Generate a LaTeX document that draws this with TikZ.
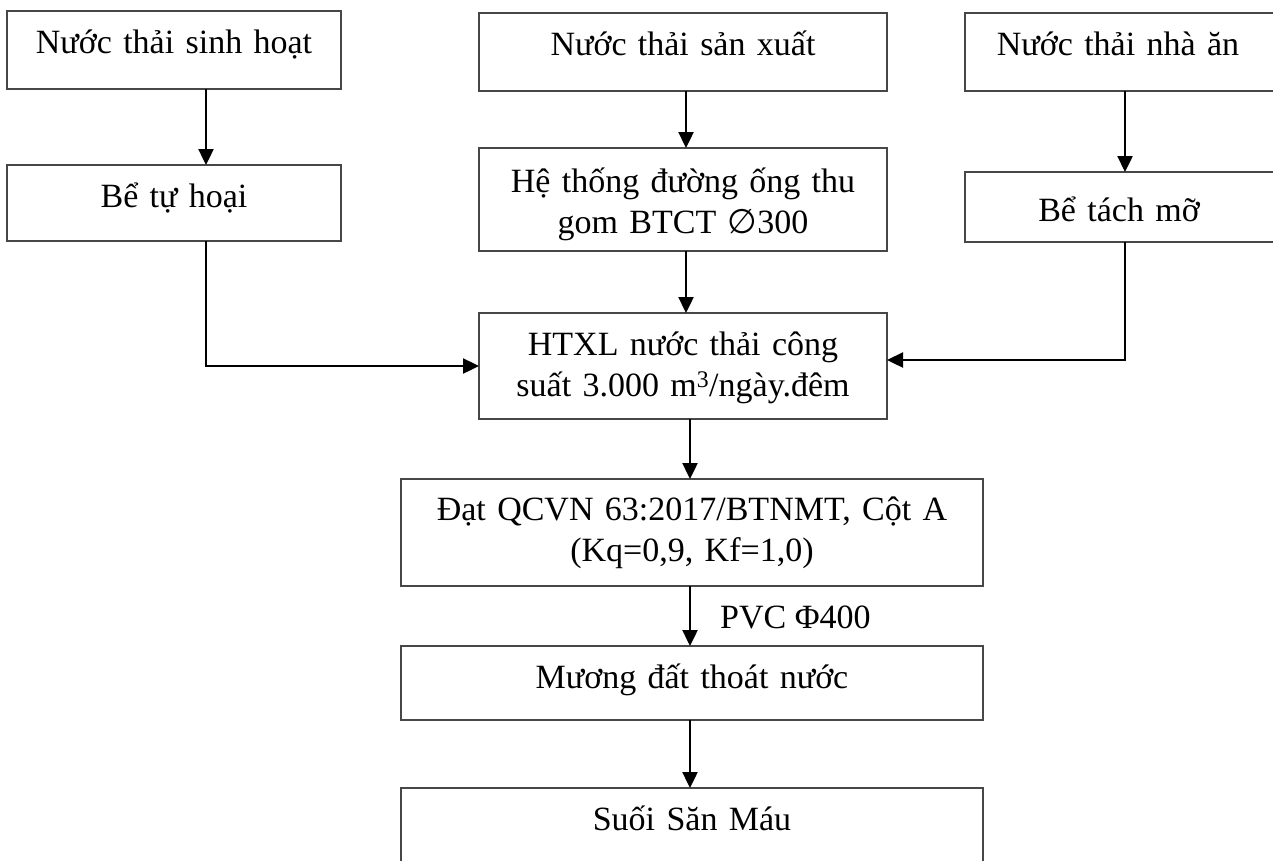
\documentclass[tikz,border=0pt]{standalone}
\usepackage{fontspec}
\setmainfont{Liberation Serif}
\newfontfamily\symbolfont{DejaVu Sans}
\usetikzlibrary{arrows.meta,calc}

% box drawn from its top-left to its bottom-right corner (units: 1pt, y downwards)
\newcommand{\mkbox}[5]{%
  \node[box, minimum width={#4-#2}, minimum height={#5-#3}] (#1) at ({(#2+#4)/2},{(#3+#5)/2}) {};}

\begin{document}
\begin{tikzpicture}[x=1pt,y=-1pt,
  box/.style={draw=black!72, line width=1.3pt, inner sep=0pt, outer sep=0pt, fill=none},
  txt/.style={font=\fontsize{34}{41.5}\selectfont, inner sep=0pt, align=center, text width=560pt, anchor=base},
  arr/.style={line width=2.4pt, line join=miter, -{Triangle[length=16pt,width=15pt]}}]

\fill[white] (0,0) rectangle (1273,860);
\useasboundingbox (0,0) rectangle (1273,860);

% boxes
\mkbox{A}{7}{11}{341}{89}
\mkbox{B}{479}{13}{887}{91}
\mkbox{C}{965}{13}{1275}{91}
\mkbox{D}{7}{165}{341}{241}
\mkbox{E}{479}{148}{887}{251}
\mkbox{F}{965}{172}{1275}{242}
\mkbox{G}{479}{313}{887}{419}
\mkbox{H}{401}{479}{983}{586}
\mkbox{I}{401}{646}{983}{720}
\mkbox{J}{401}{788}{983}{875}

% box texts (first baseline below the top edge)
\node[txt] (At) at ($(A.north)+(0,42)$) {Nước thải sinh hoạt};
\node[txt] (Bt) at ($(B.north)+(0,42)$) {Nước thải sản xuất};
\node[txt] (Ct) at ($(C.north west)+(153,42)$) {Nước thải nhà ăn};
\node[txt] (Dt) at ($(D.north)+(0,42)$) {Bể tự hoại};
\node[txt] (Et) at ($(E.north)+(0,44)$) {Hệ thống đường ống thu\\gom BTCT {\symbolfont ∅}300};
\node[txt] (Ft) at ($(F.north west)+(154,49)$) {Bể tách mỡ};
\node[txt] (Gt) at ($(G.north)+(0,42)$) {HTXL nước thải công\\suất 3.000 m\textsuperscript{3}/ngày.đêm};
\node[txt] (Ht) at ($(H.north)+(0,41)$) {Đạt QCVN 63:2017/BTNMT, Cột A\\(Kq=0,9, Kf=1,0)};
\node[txt] (It) at ($(I.north)+(0,42)$) {Mương đất thoát nước};
\node[txt] (Jt) at ($(J.north)+(0,42)$) {Suối Săn Máu};

% connector columns
\coordinate (c1) at (206,0);
\coordinate (c2) at (686,0);
\coordinate (c3) at (690,0);
\coordinate (c4) at (1125,0);

\draw[arr] (A.south -| c1) -- (D.north -| c1);
\draw[arr] (B.south -| c2) -- (E.north -| c2);
\draw[arr] (C.south -| c4) -- (F.north -| c4);
\draw[arr] (E.south -| c2) -- (G.north -| c2);
\draw[arr] (D.south -| c1) |- (G.west);
\draw[arr] (F.south -| c4) |- ($(G.east)+(0,-6)$);
\draw[arr] (G.south -| c3) -- (H.north -| c3);
\draw[arr] (H.south -| c3) -- (I.north -| c3);
\draw[arr] (I.south -| c3) -- (J.north -| c3);

\node[font=\fontsize{34}{41.5}\selectfont, inner sep=0pt, anchor=base west] (pvc) at (720,628) {PVC Φ400};
\end{tikzpicture}
\end{document}
